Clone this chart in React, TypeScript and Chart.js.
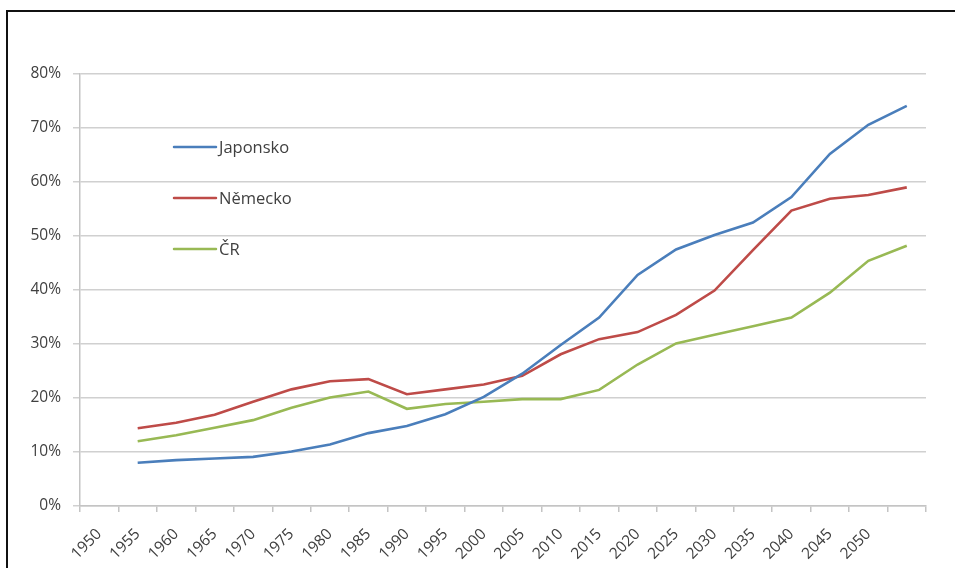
import React, { useEffect, useRef } from "react";
import { Chart, registerables } from "chart.js";

Chart.register(...registerables);

const categories = [
  "1950", "1955", "1960", "1965", "1970", "1975", "1980", "1985", "1990", "1995",
  "2000", "2005", "2010", "2015", "2020", "2025", "2030", "2035", "2040", "2045",
  "2050", "2055",
];
const hiddenTickLabels = ["2055"];

const japonsko = [
  null, 8.0, 8.5, 8.8, 9.1, 10.1, 11.4, 13.5, 14.8, 17.0, 20.2, 24.5, 29.8, 34.9,
  42.8, 47.5, 50.2, 52.5, 57.2, 65.2, 70.6, 74.1,
];
const nemecko = [
  null, 14.4, 15.4, 16.9, 19.3, 21.6, 23.1, 23.5, 20.7, 21.6, 22.5, 24.1, 28.1,
  30.9, 32.2, 35.4, 39.9, 47.4, 54.7, 56.9, 57.6, 59.0,
];
const cr = [
  null, 12.0, 13.1, 14.5, 15.9, 18.2, 20.1, 21.2, 18.0, 18.9, 19.3, 19.8, 19.8,
  21.5, 26.2, 30.1, 31.7, 33.3, 34.9, 39.5, 45.4, 48.2,
];

const seriesNames = ["Japonsko", "Německo", "ČR"];
const seriesColors = ["#4a7ebb", "#be4b48", "#98b954"];

const FONT = "'Open Sans', 'DejaVu Sans', sans-serif";
const TEXT = "#404040";

const insideLegend = {
  id: "insideLegend",
  afterDraw(chart: any) {
    const ctx = chart.ctx;
    const x0 = 174;
    const x1 = 216;
    const ys = [147, 198, 249];
    ctx.save();
    chart.data.datasets.forEach((ds: any, i: number) => {
      ctx.strokeStyle = ds.borderColor;
      ctx.lineWidth = 2.5;
      ctx.lineCap = "round";
      ctx.beginPath();
      ctx.moveTo(x0, ys[i]);
      ctx.lineTo(x1, ys[i]);
      ctx.stroke();
      ctx.fillStyle = TEXT;
      ctx.font = "16.5px " + FONT;
      ctx.textBaseline = "middle";
      ctx.textAlign = "left";
      ctx.fillText(ds.label, 219, ys[i] + 1);
    });
    ctx.restore();
  },
};

export default function App() {
  const ref = useRef<HTMLCanvasElement | null>(null);

  useEffect(() => {
    document.body.style.margin = "0";
    document.body.style.overflow = "hidden";
    const datasets = [japonsko, nemecko, cr].map((d, i) => ({
      label: seriesNames[i],
      data: d,
      borderColor: seriesColors[i],
      backgroundColor: seriesColors[i],
      borderWidth: 2.6,
      pointRadius: 0,
      tension: 0,
      spanGaps: false,
    }));
    const chart = new Chart(ref.current as HTMLCanvasElement, {
      type: "line",
      data: { labels: categories, datasets },
      plugins: [insideLegend],
      options: {
        animation: false,
        responsive: false,
        maintainAspectRatio: false,
        layout: { padding: { top: 74, right: 29, left: 0, bottom: 0 } },
        plugins: {
          legend: { display: false },
          tooltip: { enabled: false },
          title: { display: false },
        },
        scales: {
          x: {
            type: "category",
            offset: true,
            afterFit: (s: any) => {
              s.height = 62;
            },
            grid: {
              offset: true,
              drawOnChartArea: false,
              drawTicks: true,
              tickLength: 6,
              color: "#c4c4c4",
              lineWidth: 1.5,
            },
            border: { display: true, color: "#c4c4c4", width: 1.5 },
            ticks: {
              autoSkip: false,
              minRotation: 45,
              maxRotation: 45,
              padding: 13,
              color: TEXT,
              font: { family: FONT, size: 15.5 },
              callback: function (this: any, v: any) {
                const l = categories[v as number];
                return hiddenTickLabels.includes(l) ? "" : l;
              },
            },
          },
          y: {
            min: 0,
            max: 80,
            afterFit: (s: any) => {
              s.width = 80;
            },
            grid: {
              color: "#d0d0d0",
              lineWidth: 1.5,
              drawTicks: true,
              tickLength: 7,
            },
            border: { display: true, color: "#c4c4c4", width: 1.5 },
            ticks: {
              stepSize: 10,
              padding: 12,
              color: TEXT,
              font: { family: FONT, size: 15.5 },
              callback: (v: any) => v + "%",
            },
          },
        },
      },
    });
    return () => chart.destroy();
  }, []);

  return (
    <div
      style={{
        position: "relative",
        width: 955,
        height: 568,
        overflow: "hidden",
        background: "#fff",
      }}
    >
      <div
        style={{
          position: "absolute",
          left: 6,
          top: 10,
          width: 1100,
          height: 1000,
          borderLeft: "2px solid #111",
          borderTop: "2px solid #111",
        }}
      />
      <canvas
        ref={ref}
        width={955}
        height={568}
        style={{ position: "absolute", left: 0, top: 0, width: 955, height: 568 }}
      />
    </div>
  );
}
